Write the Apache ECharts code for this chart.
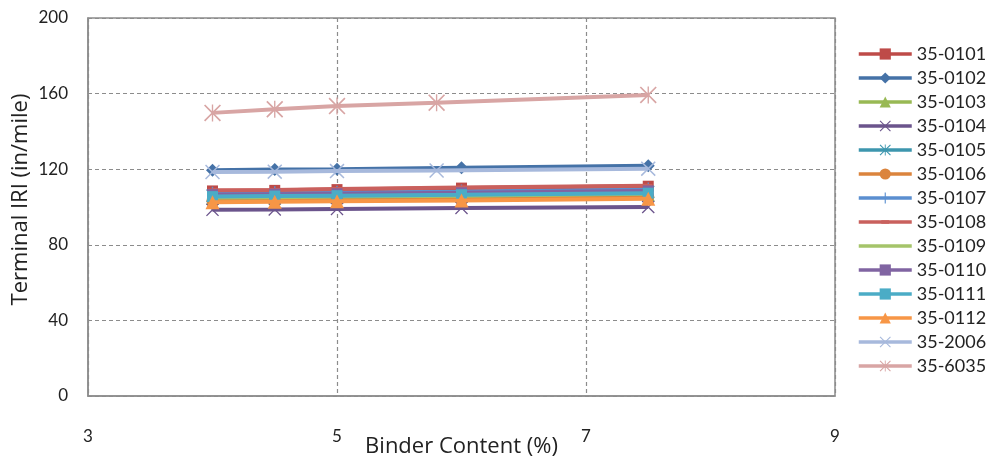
<!DOCTYPE html>
<html>
<head>
<meta charset="utf-8">
<script src="https://cdn.jsdelivr.net/npm/echarts@6/dist/echarts.min.js"></script>
<style>
  html, body { margin: 0; padding: 0; background: #fff; }
  #chart { width: 992px; height: 459px; }
</style>
</head>
<body>
<div id="chart"></div>
<script>
// Binder content (%) at which each section was evaluated
const xMain = [4, 4.5, 5, 6, 7.5];
const xAlt = [4, 4.5, 5, 5.8, 7.5];

const sectionNames = ['35-0101', '35-0102', '35-0103', '35-0104', '35-0105', '35-0106', '35-0107',
  '35-0108', '35-0109', '35-0110', '35-0111', '35-0112', '35-2006', '35-6035'];

// Terminal IRI (in/mile) per section
const iri0101 = [108.5, 108.8, 109.2, 110.0, 111.0];
const iri0102 = [119.5, 119.8, 120.0, 120.8, 121.8];
const iri0103 = [104.5, 104.8, 105.0, 105.5, 106.5];
const iri0104 = [98.5, 98.7, 99.0, 99.5, 100.0];
const iri0105 = [106.0, 106.2, 106.5, 107.0, 108.0];
const iri0106 = [103.5, 103.8, 104.0, 104.5, 105.5];
const iri0107 = [107.0, 107.3, 107.6, 108.2, 109.2];
const iri0108 = [108.8, 109.0, 109.5, 110.3, 111.2];
const iri0109 = [105.0, 105.2, 105.5, 106.0, 107.0];
const iri0110 = [106.5, 106.8, 107.0, 107.5, 108.5];
const iri0111 = [105.5, 105.8, 106.0, 106.5, 107.3];
const iri0112 = [102.5, 102.8, 103.0, 103.5, 104.3];
const iri2006 = [118.5, 118.7, 119.0, 119.3, 120.3];
const iri6035 = [149.8, 151.7, 153.4, 155.2, 159.3];

const yTicks = [0, 40, 80, 120, 160, 200];
const xTicks = [3, 5, 7, 9];

// marker outlines (20x20 boxes; tiny corner specks keep the full box so shapes are not stretched)
const corners = 'M0,0L0.01,0L0,0.01ZM20,20L19.99,20L20,19.99Z';
const crossPath = 'path://M0,1.4L1.4,0L10,8.6L18.6,0L20,1.4L11.4,10L20,18.6L18.6,20L10,11.4L1.4,20L0,18.6L8.6,10Z';
const starPath = crossPath + 'M9.2,0L10.8,0L10.8,20L9.2,20Z';
const plusPath = 'path://' + corners + 'M9,0L11,0L11,20L9,20Z';
const dashPath = 'path://' + corners + 'M3,7L17,7L17,13L3,13Z';
const flatPath = 'path://' + corners + 'M4,8L16,8L16,12L4,12Z';

const styles = [
  { y: iri0101, x: xMain, color: '#BE4B48', symbol: 'rect', size: 11 },
  { y: iri0102, x: xMain, color: '#4572A7', symbol: 'diamond', size: 13 },
  { y: iri0103, x: xMain, color: '#98B954', symbol: 'triangle', size: 13 },
  { y: iri0104, x: xMain, color: '#6B548C', symbol: crossPath, size: 13 },
  { y: iri0105, x: xMain, color: '#3D96AE', symbol: starPath, size: 13 },
  { y: iri0106, x: xMain, color: '#DB843D', symbol: 'circle', size: 12 },
  { y: iri0107, x: xMain, color: '#5B8FD0', symbol: plusPath, size: 14 },
  { y: iri0108, x: xMain, color: '#C9605D', symbol: dashPath, size: 12 },
  { y: iri0109, x: xMain, color: '#A5C46A', symbol: flatPath, size: 12 },
  { y: iri0110, x: xMain, color: '#8064A2', symbol: 'rect', size: 11 },
  { y: iri0111, x: xMain, color: '#4BACC6', symbol: 'rect', size: 11 },
  { y: iri0112, x: xMain, color: '#F79646', symbol: 'triangle', size: 14 },
  { y: iri2006, x: xAlt, color: '#A7B9DC', symbol: crossPath, size: 15 },
  { y: iri6035, x: xAlt, color: '#D8A5A4', symbol: starPath, size: 17 }
];

const series = styles.map((s, i) => ({
  name: sectionNames[i],
  type: 'line',
  data: s.x.map((xv, k) => [xv, s.y[k]]),
  symbol: s.symbol,
  symbolSize: s.size,
  showSymbol: true,
  lineStyle: { color: s.color, width: 4 },
  itemStyle: { color: s.color, borderWidth: 0 },
  z: 2 + i,
  animation: false
}));

const font = 'Lato, "Open Sans", sans-serif';
const titleFont = '"Open Sans", Lato, sans-serif';

const chart = echarts.init(document.getElementById('chart'), null, { renderer: 'canvas' });
chart.setOption({
  backgroundColor: '#ffffff',
  animation: false,
  grid: {
    left: 88, right: 157, top: 18, bottom: 63,
    outerBoundsMode: 'none',
    containLabel: false,
    show: true, borderColor: '#8C8C8C', borderWidth: 1.5, backgroundColor: 'transparent'
  },
  xAxis: {
    type: 'value',
    min: xTicks[0], max: xTicks[xTicks.length - 1], interval: 2,
    name: 'Binder Content (%)',
    nameLocation: 'middle', nameGap: 40, nameMoveOverlap: false,
    nameTextStyle: { fontFamily: titleFont, fontSize: 22, color: '#222' },
    axisLine: { show: true, lineStyle: { color: '#8C8C8C', width: 1.5 } },
    axisTick: { show: false },
    axisLabel: { margin: 32, fontFamily: font, fontSize: 17, color: '#222' },
    splitLine: { show: true, lineStyle: { color: '#8C8C8C', type: [4, 3], width: 1.2 } }
  },
  yAxis: {
    type: 'value',
    min: yTicks[0], max: yTicks[yTicks.length - 1], interval: 40,
    name: 'Terminal IRI (in/mile)',
    nameLocation: 'middle', nameGap: 56, nameMoveOverlap: false,
    nameTextStyle: { fontFamily: titleFont, fontSize: 22, color: '#222', padding: [0, 0, 0, 15] },
    axisLine: { show: true, lineStyle: { color: '#8C8C8C', width: 1.5 } },
    axisTick: { show: false },
    axisLabel: { margin: 20, fontFamily: font, fontSize: 17, color: '#222' },
    splitLine: { show: true, lineStyle: { color: '#8C8C8C', type: [4, 3], width: 1.2 } }
  },
  legend: {
    orient: 'vertical',
    left: 852, top: 40,
    itemWidth: 53, itemHeight: 14, itemGap: 6,
    lineStyle: { width: 3.5 },
    textStyle: { fontFamily: font, fontSize: 18, color: '#222' },
    data: sectionNames
  },
  series: series
});
</script>
</body>
</html>
